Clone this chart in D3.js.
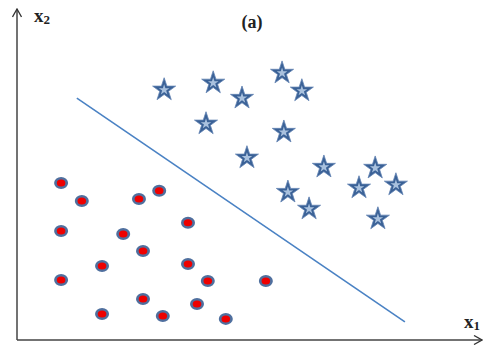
<!DOCTYPE html>
<html>
<head>
<meta charset="utf-8">
<script src="https://cdn.jsdelivr.net/npm/d3@7"></script>
<style>
  body { margin: 0; background: #fff; }
  svg { display: block; }
  .lbl { font-family: "Liberation Serif", "Times New Roman", serif; font-weight: bold; fill: #222; }
</style>
</head>
<body>
<div id="chart"></div>
<script>
// class +1 (stars): [x1, x2]
const starX = [3.27, 4.36, 5.00, 5.89, 6.33, 4.20, 5.93, 5.11, 6.82, 7.96, 7.60, 8.42, 6.02, 6.49, 8.02];
const starY = [7.58, 7.79, 7.33, 8.09, 7.55, 6.55, 6.30, 5.52, 5.24, 5.21, 4.61, 4.70, 4.48, 3.97, 3.67];

// class -1 (dots)
const dotX = [0.98, 1.44, 2.71, 3.16, 0.98, 2.36, 3.80, 2.80, 1.89, 3.80, 4.24, 5.53, 0.98, 2.80, 4.00, 1.89, 3.24, 4.64];
const dotY = [4.76, 4.21, 4.27, 4.52, 3.30, 3.21, 3.55, 2.70, 2.24, 2.30, 1.79, 1.79, 1.82, 1.24, 1.09, 0.79, 0.73, 0.64];

// separating line end points
const lineX = [1.33, 8.62];
const lineY = [7.33, 0.55];

const width = 484, height = 347;

const x = d3.scaleLinear().domain([0, 10]).range([17, 467]);
const y = d3.scaleLinear().domain([0, 10]).range([340, 10]);

const svg = d3.select("#chart")
    .append("svg")
    .attr("width", width)
    .attr("height", height);

// arrow heads for the axes
const defs = svg.append("defs");
defs.append("marker")
    .attr("id", "arrow")
    .attr("viewBox", "0 0 10 10")
    .attr("refX", 9)
    .attr("refY", 5)
    .attr("markerWidth", 10)
    .attr("markerHeight", 10)
    .attr("markerUnits", "userSpaceOnUse")
    .attr("orient", "auto")
    .append("path")
    .attr("d", "M1,0.5 L9,5 L1,9.5")
    .attr("fill", "none")
    .attr("stroke", "#333")
    .attr("stroke-width", 1.3);

// axes
svg.append("line")
    .attr("x1", x(0)).attr("y1", y(0))
    .attr("x2", x(0)).attr("y2", 9)
    .attr("stroke", "#444")
    .attr("stroke-width", 1.5)
    .attr("marker-end", "url(#arrow)");
svg.append("line")
    .attr("x1", x(0)).attr("y1", y(0))
    .attr("x2", 482).attr("y2", y(0))
    .attr("stroke", "#444")
    .attr("stroke-width", 1.5)
    .attr("marker-end", "url(#arrow)");

// axis labels and title
const lx2 = svg.append("text")
    .attr("class", "lbl")
    .attr("x", 34).attr("y", 22)
    .style("font-size", "19px");
lx2.append("tspan").text("x");
lx2.append("tspan").style("font-size", "13px").attr("dy", 2).text("2");

const lx1 = svg.append("text")
    .attr("class", "lbl")
    .attr("x", 464).attr("y", 328)
    .style("font-size", "19px");
lx1.append("tspan").text("x");
lx1.append("tspan").style("font-size", "13px").attr("dy", 2).text("1");

svg.append("text")
    .attr("class", "lbl")
    .attr("x", 252).attr("y", 28)
    .attr("text-anchor", "middle")
    .style("font-size", "18px")
    .text("(a)");

// decision boundary
svg.append("line")
    .attr("x1", x(lineX[0])).attr("y1", y(lineY[0]))
    .attr("x2", x(lineX[1])).attr("y2", y(lineY[1]))
    .attr("stroke", "#4a82c4")
    .attr("stroke-width", 1.6);

// stars
const stars = starX.map((v, i) => ({ x1: v, x2: starY[i] }));
const outerStar = d3.symbol().type(d3.symbolStar).size(165);
const innerStar = d3.symbol().type(d3.symbolStar).size(35);
const sg = svg.append("g").selectAll("g")
    .data(stars)
    .enter().append("g")
    .attr("transform", d => `translate(${x(d.x1)},${y(d.x2)})`);
sg.append("path")
    .attr("d", outerStar)
    .attr("fill", "#3a6196")
    .attr("stroke", "#6283b3")
    .attr("stroke-width", 0.8);
sg.append("path")
    .attr("d", innerStar)
    .attr("fill", "#a9c1de");

// dots
const dots = dotX.map((v, i) => ({ x1: v, x2: dotY[i] }));
const dg = svg.append("g").selectAll("g")
    .data(dots)
    .enter().append("g")
    .attr("transform", d => `translate(${x(d.x1)},${y(d.x2)})`);
dg.append("ellipse")
    .attr("rx", 7).attr("ry", 6)
    .attr("fill", "#4f6f9e");
dg.append("ellipse")
    .attr("rx", 4.3).attr("ry", 3.5)
    .attr("fill", "#ee0000");
</script>
</body>
</html>
